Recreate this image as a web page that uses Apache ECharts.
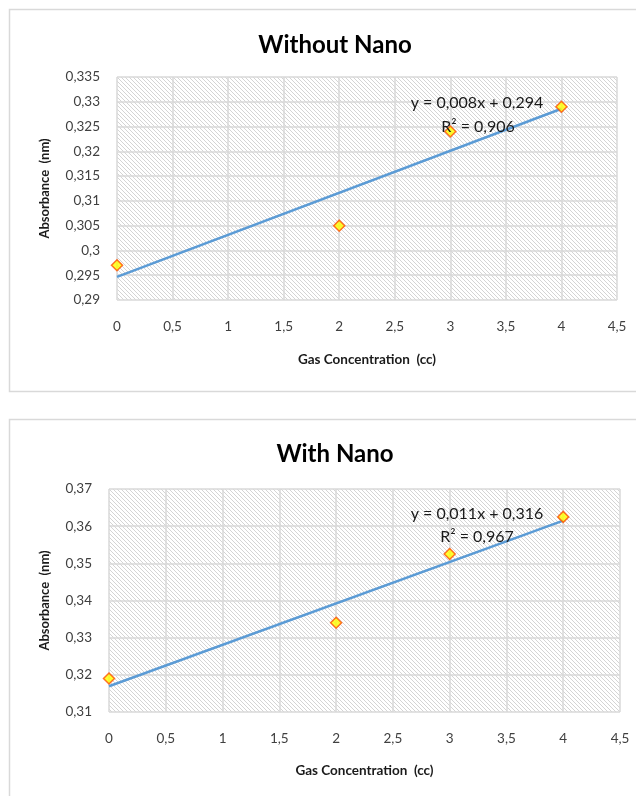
<!DOCTYPE html>
<html>
<head>
<meta charset="utf-8">
<script src="https://cdn.jsdelivr.net/npm/echarts@6/dist/echarts.min.js"></script>
<style>
html,body{margin:0;padding:0;background:#fff;}
#c{width:636px;height:796px;}
</style>
</head>
<body>
<div id="c"></div>
<script>
// ---- data ----
const titles = ['Without Nano', 'With Nano'];
const gasConc = [0, 2, 3, 4];
const absWithout = [0.297, 0.305, 0.324, 0.329];
const absWith = [0.319, 0.334, 0.3525, 0.3625];
const eqWithout = ['y = 0,008x + 0,294', 'R² = 0,906'];
const eqWith = ['y = 0,011x + 0,316', 'R² = 0,967'];
const yRangeWithout = [0.29, 0.335, 0.005];
const yRangeWith = [0.31, 0.37, 0.01];
const xRange = [0, 4.5, 0.5];

function fit(xs, ys) {
  const n = xs.length;
  const mx = xs.reduce((a, b) => a + b, 0) / n;
  const my = ys.reduce((a, b) => a + b, 0) / n;
  let sxy = 0, sxx = 0;
  for (let i = 0; i < n; i++) { sxy += (xs[i] - mx) * (ys[i] - my); sxx += (xs[i] - mx) ** 2; }
  const m = sxy / sxx, b = my - m * mx;
  const x0 = Math.min(...xs), x1 = Math.max(...xs);
  return [[x0, m * x0 + b], [x1, m * x1 + b]];
}

// hatch pattern
const tile = document.createElement('canvas');
tile.width = 4; tile.height = 4;
const g = tile.getContext('2d');
g.fillStyle = '#ffffff'; g.fillRect(0, 0, 4, 4);
g.strokeStyle = '#d4d4d4'; g.lineWidth = 1;
g.beginPath();
g.moveTo(-1, -1); g.lineTo(5, 5);
g.moveTo(-1, 3); g.lineTo(1, 5);
g.moveTo(3, -1); g.lineTo(5, 1);
g.stroke();
const hatch = { image: tile, repeat: 'repeat' };

const FONT = 'Lato';
const fmt = v => String(parseFloat(v.toFixed(4))).replace('.', ',');

function yAxis(idx, r) {
  return {
    type: 'value', gridIndex: idx, min: r[0], max: r[1], interval: r[2],
    name: 'Absorbance  (nm)', nameLocation: 'middle', nameRotate: 90,
    nameGap: idx === 0 ? 66 : 58,
    nameTextStyle: { fontFamily: FONT, fontSize: 13, fontWeight: 'bold', color: '#1a1a1a' },
    axisLine: { show: false }, axisTick: { show: false },
    axisLabel: { fontFamily: FONT, fontSize: 13.5, color: '#404040', margin: 17, formatter: fmt },
    splitLine: { show: true, lineStyle: { color: '#d9d9d9', width: 1.5 } }
  };
}
function xAxis(idx) {
  return {
    type: 'value', gridIndex: idx, min: xRange[0], max: xRange[1], interval: xRange[2],
    name: 'Gas Concentration  (cc)', nameLocation: 'middle',
    nameGap: idx === 0 ? 53 : 52,
    nameTextStyle: { fontFamily: FONT, fontSize: 13.5, fontWeight: 'bold', color: '#1a1a1a' },
    axisLine: { show: false }, axisTick: { show: false },
    axisLabel: { fontFamily: FONT, fontSize: 13.5, color: '#404040', margin: 20, formatter: fmt },
    splitLine: { show: true, lineStyle: { color: '#d9d9d9', width: 1.5 } }
  };
}
const ptStyle = { color: '#ffff00', borderColor: '#ff5000', borderWidth: 1.5 };
function pts(idx, ys) {
  return {
    type: 'scatter', xAxisIndex: idx, yAxisIndex: idx, symbol: 'diamond', symbolSize: [11, 11],
    itemStyle: ptStyle, z: 5,
    data: gasConc.map((x, i) => [x, ys[i]])
  };
}
function trend(idx, ys) {
  return {
    type: 'line', xAxisIndex: idx, yAxisIndex: idx, showSymbol: false, symbol: 'none',
    lineStyle: { color: '#5b9bd5', width: 2.5 }, z: 3, data: fit(gasConc, ys)
  };
}

const chart = echarts.init(document.getElementById('c'), null, { renderer: 'canvas' });
chart.setOption({
  backgroundColor: '#fff',
  animation: false,
  title: [
    { text: titles[0], left: 330, top: 28, textAlign: 'center',
      textStyle: { fontFamily: FONT, fontSize: 24, fontWeight: 'bold', color: '#000' } },
    { text: titles[1], left: 330, top: 437, textAlign: 'center',
      textStyle: { fontFamily: FONT, fontSize: 24, fontWeight: 'bold', color: '#000' } }
  ],
  grid: [
    { left: 117, top: 77, right: 19, height: 223, show: true, backgroundColor: hatch, borderWidth: 0 },
    { left: 109, top: 489, right: 16, height: 223, show: true, backgroundColor: hatch, borderWidth: 0 }
  ],
  xAxis: [xAxis(0), xAxis(1)],
  yAxis: [yAxis(0, yRangeWithout), yAxis(1, yRangeWith)],
  series: [trend(0, absWithout), pts(0, absWithout), trend(1, absWith), pts(1, absWith)],
  graphic: [
    { type: 'rect', shape: { x: 9.5, y: 9.5, width: 640, height: 382 }, style: { fill: 'none', stroke: '#d9d9d9', lineWidth: 1.5 }, z: -10 },
    { type: 'rect', shape: { x: 9.5, y: 419.5, width: 640, height: 390 }, style: { fill: 'none', stroke: '#d9d9d9', lineWidth: 1.5 }, z: -10 },
    { type: 'text', x: 477, y: 103, style: { text: eqWithout[0], fontFamily: FONT, fontSize: 16, fill: '#1a1a1a', align: 'center', verticalAlign: 'middle' }, z: 10 },
    { type: 'text', x: 478, y: 127, style: { text: eqWithout[1], fontFamily: FONT, fontSize: 16, fill: '#1a1a1a', align: 'center', verticalAlign: 'middle' }, z: 10 },
    { type: 'text', x: 477, y: 514, style: { text: eqWith[0], fontFamily: FONT, fontSize: 16, fill: '#1a1a1a', align: 'center', verticalAlign: 'middle' }, z: 10 },
    { type: 'text', x: 477, y: 537, style: { text: eqWith[1], fontFamily: FONT, fontSize: 16, fill: '#1a1a1a', align: 'center', verticalAlign: 'middle' }, z: 10 }
  ]
});
</script>
</body>
</html>
